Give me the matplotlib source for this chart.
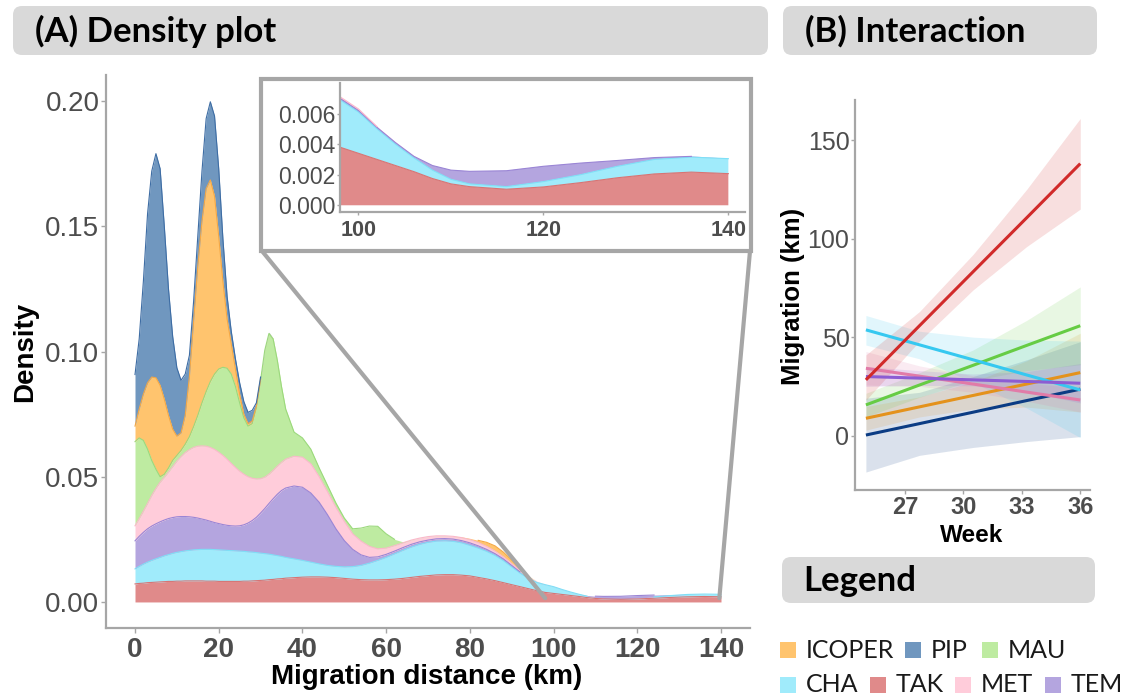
import numpy as np
import matplotlib.pyplot as plt
from matplotlib.patches import FancyBboxPatch, Rectangle, ConnectionPatch
from matplotlib.ticker import FormatStrFormatter

# ---------------------------------------------------------------------
# Data
# ---------------------------------------------------------------------
DIST_KM = [0, 1, 2, 3, 4, 5, 6, 7, 8, 9, 10, 11, 12, 13, 14, 15, 16, 17, 18,
           19, 20, 21, 22, 23, 24, 25, 26, 27, 28, 29, 30, 31, 32, 33, 34, 35,
           36, 38, 40, 42, 44, 46, 48, 50, 52, 54, 56, 58, 60, 62, 64, 66, 68,
           70, 72, 74, 76, 78, 80, 82, 84, 86, 88, 90, 92, 94, 96, 98, 100,
           102, 104, 106, 108, 110, 112, 116, 120, 124, 128, 132, 136, 140]

# density of each group (stacked from bottom: TAK, CHA, TEM, MET, MAU, ICOPER, PIP)
TAK_DENS = [.0072, .0074, .0075, .0077, .0078, .0079, .0080, .0081, .0082, .0082,
            .0083, .0083, .0084, .0084, .0084, .0084, .0084, .0083, .0083, .0083,
            .0082, .0082, .0082, .0082, .0082, .0082, .0083, .0083, .0084, .0085,
            .0086, .0087, .0089, .0090, .0092, .0093, .0095,
            .0097, .0099, .0100, .0100, .0099, .0097, .0094, .0091, .0089, .0088,
            .0088, .0089, .0091, .0094, .0098, .0102, .0105, .0108, .0109, .0109,
            .0107, .0104, .0098, .0092, .0085, .0077, .0069, .0061, .0053, .0045,
            .0038, .0034, .0030, .0026, .0022, .00175, .0014, .00122,
            .00105, .0012, .00148, .0018, .00205, .00217, .00207]
CHA_DENS = [.0060, .0068, .0076, .0082, .0088, .0093, .0098, .0103, .0107, .0112,
            .0115, .0118, .0120, .0122, .0124, .0125, .0126, .0127, .0127, .0126,
            .0126, .0125, .0124, .0123, .0122, .0121, .0119, .0117, .0115, .0112,
            .0109, .0106, .0102, .0098, .0093, .0089, .0083,
            .0075, .0067, .0059, .0052, .0047, .0045, .0046, .0050, .0057, .0067,
            .0078, .0089, .0101, .0112, .0121, .0128, .0133, .0135, .0135, .0133,
            .0129, .0122, .0117, .0110, .0101, .0088, .0071, .0054, .0041, .0033,
            .0031, .0027, .0020, .0014, .0009, .00055, .0003, .00018,
            .00017, .00035, .00052, .00075, .00095, .00098, .00098]
TEM_DENS = [.0112, .0120, .0127, .0133, .0137, .0140, .0142, .0143, .0144, .0143,
            .0142, .0140, .0137, .0134, .0130, .0126, .0121, .0117, .0112, .0108,
            .0105, .0102, .0100, .0099, .0099, .0101, .0106, .0115, .0126, .0141,
            .0160, .0180, .0202, .0224, .0245, .0263, .0277,
            .0291, .0292, .0276, .0246, .0202, .0150, .0105, .0069, .0042, .0023,
            .0014, .0012, .0011, .0011, .0011, .0010, .0009, .0009, .0009, .0009,
            .0009, .0010, .0009, .0008, .0007, .0007, .0006, .0005, .0004, .0002,
            .0001, .0001, .0001, .0001, .0001, .0003, .0006, .00082,
            .00104, .0010, .00076, .00038, .00012, .00005, 0.0]
MET_DENS = [.0060, .0070, .0084, .0101, .0122, .0141, .0158, .0170, .0185, .0203,
            .0222, .0239, .0255, .0268, .0279, .0287, .0292, .0295, .0295, .0292,
            .0285, .0276, .0264, .0249, .0234, .0218, .0202, .0185, .0169, .0153,
            .0137, .0125, .0117, .0113, .0112, .0112, .0115,
            .0119, .0120, .0117, .0102, .0092, .0086, .0077, .0062, .0055, .0044,
            .0032, .0025, .0022, .0019, .0017, .0015, .0014, .0012, .0011, .0011,
            .0012, .0013, .0013, .0012, .0010, .0008, .0007, .0006, .0004, .0003,
            .0001, .0001, .00005, .00003, .00002, .00001, 0.0, 0.0,
            0.0, 0.0, 0.0, 0.0, 0.0, 0.0, 0.0]
MAU_DENS = [.0336, .0323, .0283, .0217, .0140, .0077, .0022, .0013, .0017, .0025,
            .0023, .0025, .0034, .0052, .0083, .0123, .0172, .0218, .0263, .0301,
            .0332, .0352, .0363, .0357, .0323, .0273, .0225, .0202, .0218, .0284,
            .0393, .0507, .0562, .0525, .0423, .0303, .0200,
            .0096, .0077, .0058, .0035, .0025, .0017, .0013, .0020, .0052, .0081,
            .0090, .0057, .0025, .0004, .0001, .0001, .0001, .0001, .0001, .0001,
            .0001, .0001, .0001, .0001, .0001, .0001, .0001, 0.0, 0.0, 0.0,
            0.0, 0.0, 0.0, 0.0, 0.0, 0.0, 0.0, 0.0,
            0.0, 0.0, 0.0, 0.0, 0.0, 0.0, 0.0]
ICOPER_DENS = [.0062, .0115, .0185, .0265, .0333, .0365, .0365, .0300, .0210, .0125,
               .0077, .0070, .0115, .0240, .0420, .0595, .0725, .0810, .0805, .0710,
               .0530, .0343, .0197, .0120, .0070, .0035, .0015, .0010, .0010, .0007,
               .0005, .0003, .0003, .0002, .0001, .0001, .0001,
               0.0, 0.0, 0.0, 0.0, 0.0, 0.0, 0.0, 0.0, 0.0, 0.0,
               0.0, 0.0, 0.0, 0.0, 0.0, 0.0, 0.0, 0.0, 0.0, 0.0,
               .0002, .0004, .0008, .0015, .0020, .0018, .0013, .0007, .0002, 0.0,
               0.0, 0.0, 0.0, 0.0, 0.0, 0.0, 0.0, 0.0,
               0.0, 0.0, 0.0, 0.0, 0.0, 0.0, 0.0]
PIP_DENS = [.0206, .0280, .0450, .0675, .0822, .0895, .0865, .0690, .0505, .0370,
            .0273, .0210, .0165, .0085, .0080, .0120, .0200, .0280, .0312, .0320,
            .0270, .0170, .0090, .0050, .0040, .0045, .0050, .0045, .0043, .0013,
            .0008, .0004, .0002, .0001, 0.0, 0.0, 0.0,
            0.0, 0.0, 0.0, 0.0, 0.0, 0.0, 0.0, 0.0, 0.0, 0.0,
            0.0, 0.0, 0.0, 0.0, 0.0, 0.0, 0.0, 0.0, 0.0, 0.0,
            0.0, 0.0, 0.0, 0.0, 0.0, 0.0, 0.0, 0.0, 0.0, 0.0,
            0.0, 0.0, 0.0, 0.0, 0.0, 0.0, 0.0, 0.0,
            0.0, 0.0, 0.0, 0.0, 0.0, 0.0, 0.0]

# panel B: fitted migration vs week with confidence band
WEEKS = [25, 27.75, 30.5, 33.25, 36]
TAK_FIT = [28.3, 55.8, 83.2, 110.6, 138.1]
TAK_LO = [18, 48, 74, 96, 115]
TAK_HI = [41, 63, 92, 125, 161]
CHA_FIT = [53.7, 46.1, 38.5, 30.8, 23.2]
CHA_LO = [46, 39, 27, 14, -1]
CHA_HI = [61, 53, 50, 48.5, 48]
MAU_FIT = [15.6, 25.7, 35.7, 45.8, 55.8]
MAU_LO = [9.5, 19.5, 28, 33, 36]
MAU_HI = [21.5, 32, 43.5, 58.5, 75.5]
ICOPER_FIT = [8.8, 14.6, 20.4, 26.2, 32.0]
ICOPER_LO = [2.8, 9.5, 13.5, 14.5, 12]
ICOPER_HI = [14.8, 19.7, 27.3, 38, 52]
PIP_FIT = [0.3, 6.1, 11.9, 17.8, 23.6]
PIP_LO = [-18.5, -10, -6, -3, -0.5]
PIP_HI = [19, 22, 30, 38.5, 47.7]
MET_FIT = [34.2, 30.2, 26.2, 22.1, 18.1]
MET_LO = [25.7, 25, 22, 17.5, 12]
MET_HI = [42.7, 35.4, 30.4, 26.7, 24.2]
TEM_FIT = [30.0, 29.2, 28.3, 27.5, 26.6]
TEM_LO = [25, 25.5, 25.3, 22.5, 16.6]
TEM_HI = [35, 33, 31.3, 32.5, 36.6]

STACK_ORDER = ["TAK", "CHA", "TEM", "MET", "MAU", "ICOPER", "PIP"]
LEGEND_ROWS = [["ICOPER", "PIP", "MAU"], ["CHA", "TAK", "MET", "TEM"]]

# ---------------------------------------------------------------------
# Styling
# ---------------------------------------------------------------------
W, H = 1128, 698
FILL = {"TAK": "#E08A8A", "CHA": "#A0EBFB", "TEM": "#B4A5DF", "MET": "#FFCCDA",
        "MAU": "#BEEBA1", "ICOPER": "#FFC46E", "PIP": "#7097BF"}
EDGE = {"TAK": "#D77474", "CHA": "#7EE0F7", "TEM": "#9A85D5", "MET": "#FBB8CB",
        "MAU": "#9BD97C", "ICOPER": "#F5A844", "PIP": "#3E6DA4"}
LINE = {"TAK": "#D12A2A", "CHA": "#36C8F0", "TEM": "#8C5CD3", "MET": "#E17BA8",
        "MAU": "#66CC44", "ICOPER": "#E4921C", "PIP": "#0B3C84"}
AXIS_GREY = "#A6A6A6"
TICK_TEXT = "#4D4D4D"

plt.rcParams["font.family"] = ["Liberation Sans", "DejaVu Sans"]
HEAD_FONT = ["Lato", "DejaVu Sans"]


def px_axes(fig, left, top, right, bottom, **kw):
    # place an axes by figure pixel box (y measured from the top)
    return fig.add_axes([left / W, 1 - bottom / H, (right - left) / W,
                         (bottom - top) / H], **kw)


def style_axes(a, size_x, size_y, pad_x, pad_y, tick_len=3.0):
    for side in ("top", "right"):
        a.spines[side].set_visible(False)
    for side in ("left", "bottom"):
        a.spines[side].set_color(AXIS_GREY)
        a.spines[side].set_linewidth(1.6)
    a.tick_params(axis="both", color=AXIS_GREY, length=tick_len, width=1.0,
                  labelcolor=TICK_TEXT)
    a.tick_params(axis="x", labelsize=size_x, pad=pad_x)
    a.tick_params(axis="y", labelsize=size_y, pad=pad_y)
    for lab in a.get_xticklabels():
        lab.set_fontweight("bold")


def draw_stack(a, x, min_edge):
    series = {"TAK": TAK_DENS, "CHA": CHA_DENS, "TEM": TEM_DENS, "MET": MET_DENS,
              "MAU": MAU_DENS, "ICOPER": ICOPER_DENS, "PIP": PIP_DENS}
    base = np.zeros(len(x))
    for name in STACK_ORDER:
        dens = np.array(series[name])
        top = base + dens
        a.fill_between(x, base, top, color=FILL[name], lw=0)
        edge = np.where(dens > min_edge, top, np.nan)
        a.plot(x, edge, color=EDGE[name], lw=0.8)
        base = top


def main():
    fig = plt.figure(figsize=(W / 100, H / 100), dpi=100)
    x = np.array(DIST_KM)

    # ---------------- panel A: stacked densities ----------------
    ax = px_axes(fig, 105.7, 75, 750.3, 628, zorder=1)
    draw_stack(ax, x, 0.0004)
    ax.set_xlim(-7, 147)
    ax.set_ylim(-0.0104, 0.2104)
    ax.set_xticks([0, 20, 40, 60, 80, 100, 120, 140])
    ax.set_yticks([0.0, 0.05, 0.10, 0.15, 0.20])
    ax.yaxis.set_major_formatter(FormatStrFormatter("%.2f"))
    style_axes(ax, 20, 20, 3, 1, tick_len=3.5)

    # overlay in figure pixels for boxes, frame and titles
    ov = fig.add_axes([0, 0, 1, 1], zorder=2)
    ov.set_xlim(0, W)
    ov.set_ylim(H, 0)
    ov.axis("off")
    ov.patch.set_alpha(0)

    ov.add_patch(Rectangle((261, 79), 490, 172, facecolor="white",
                           edgecolor=AXIS_GREY, lw=3.0))
    for corner, target in (((262, 251), (98, 0.0015)), ((750, 251), (139.6, 0.0015))):
        con = ConnectionPatch(xyA=corner, coordsA=ov.transData,
                              xyB=target, coordsB=ax.transData,
                              color=AXIS_GREY, lw=3.0)
        ov.add_artist(con)

    # inset zoom
    axin = px_axes(fig, 340, 83, 745, 212, zorder=3)
    draw_stack(axin, x, 0.00003)
    axin.set_xlim(98, 141.8)
    axin.set_ylim(-0.00044, 0.0080)
    axin.set_xticks([100, 120, 140])
    axin.set_yticks([0.0, 0.002, 0.004, 0.006])
    axin.yaxis.set_major_formatter(FormatStrFormatter("%.3f"))
    style_axes(axin, 15.5, 16.5, 3, 1, tick_len=2.5)

    # ---------------- panel B: interaction ----------------
    bx = px_axes(fig, 855, 100, 1090, 490, zorder=1)
    fits = {"PIP": (PIP_FIT, PIP_LO, PIP_HI), "ICOPER": (ICOPER_FIT, ICOPER_LO, ICOPER_HI),
            "MAU": (MAU_FIT, MAU_LO, MAU_HI), "CHA": (CHA_FIT, CHA_LO, CHA_HI),
            "MET": (MET_FIT, MET_LO, MET_HI), "TEM": (TEM_FIT, TEM_LO, TEM_HI),
            "TAK": (TAK_FIT, TAK_LO, TAK_HI)}
    for name, (fit, lo, hi) in fits.items():
        bx.fill_between(WEEKS, lo, hi, color=LINE[name], alpha=0.15, lw=0)
    for name, (fit, lo, hi) in fits.items():
        bx.plot(WEEKS, fit, color=LINE[name], lw=2.2, solid_capstyle="butt")
    bx.set_xlim(24.44, 36.5)
    bx.set_ylim(-27.6, 170.4)
    bx.set_xticks([27, 30, 33, 36])
    bx.set_yticks([0, 50, 100, 150])
    style_axes(bx, 17, 18, 1.5, 1, tick_len=3)

    # ---------------- titles ----------------
    ov.text(25, 352, "Density", rotation=90, ha="center", va="center",
            fontsize=20, fontweight="bold")
    ov.text(427, 677, "Migration distance (km)", ha="center", va="center",
            fontsize=20, fontweight="bold")
    ov.text(793, 296, "Migration (km)", rotation=90, ha="center", va="center",
            fontsize=18.5, fontweight="bold")
    ov.text(972, 535, "Week", ha="center", va="center",
            fontsize=17.5, fontweight="bold")

    # header boxes
    for (x0, y0, x1, y1), label, tx in (((13, 6, 768, 55), "(A) Density plot", 35),
                                         ((783, 6, 1097, 55), "(B) Interaction", 805),
                                         ((782, 557, 1095, 603), "Legend", 803)):
        ov.add_patch(FancyBboxPatch((x0, y0), x1 - x0, y1 - y0,
                                    boxstyle="round,pad=0,rounding_size=9",
                                    facecolor="#D9D9D9", edgecolor="none"))
        ov.text(tx, (y0 + y1) / 2 + 1, label, ha="left", va="center",
                fontsize=25, fontweight="bold", family=HEAD_FONT)

    # legend entries
    row_y = [650, 685]
    row_x = [[780, 905, 982], [780, 870, 955, 1045]]
    for names, yc, xs in zip(LEGEND_ROWS, row_y, row_x):
        for name, xs0 in zip(names, xs):
            ov.add_patch(Rectangle((xs0, yc - 8), 16, 16, facecolor=FILL[name],
                                   edgecolor="none"))
            ov.text(xs0 + 26, yc, name, ha="left", va="center",
                    fontsize=18, family=HEAD_FONT, color="#1A1A1A")

    fig.savefig("out.png", dpi=100, facecolor="white")


if __name__ == "__main__":
    main()
